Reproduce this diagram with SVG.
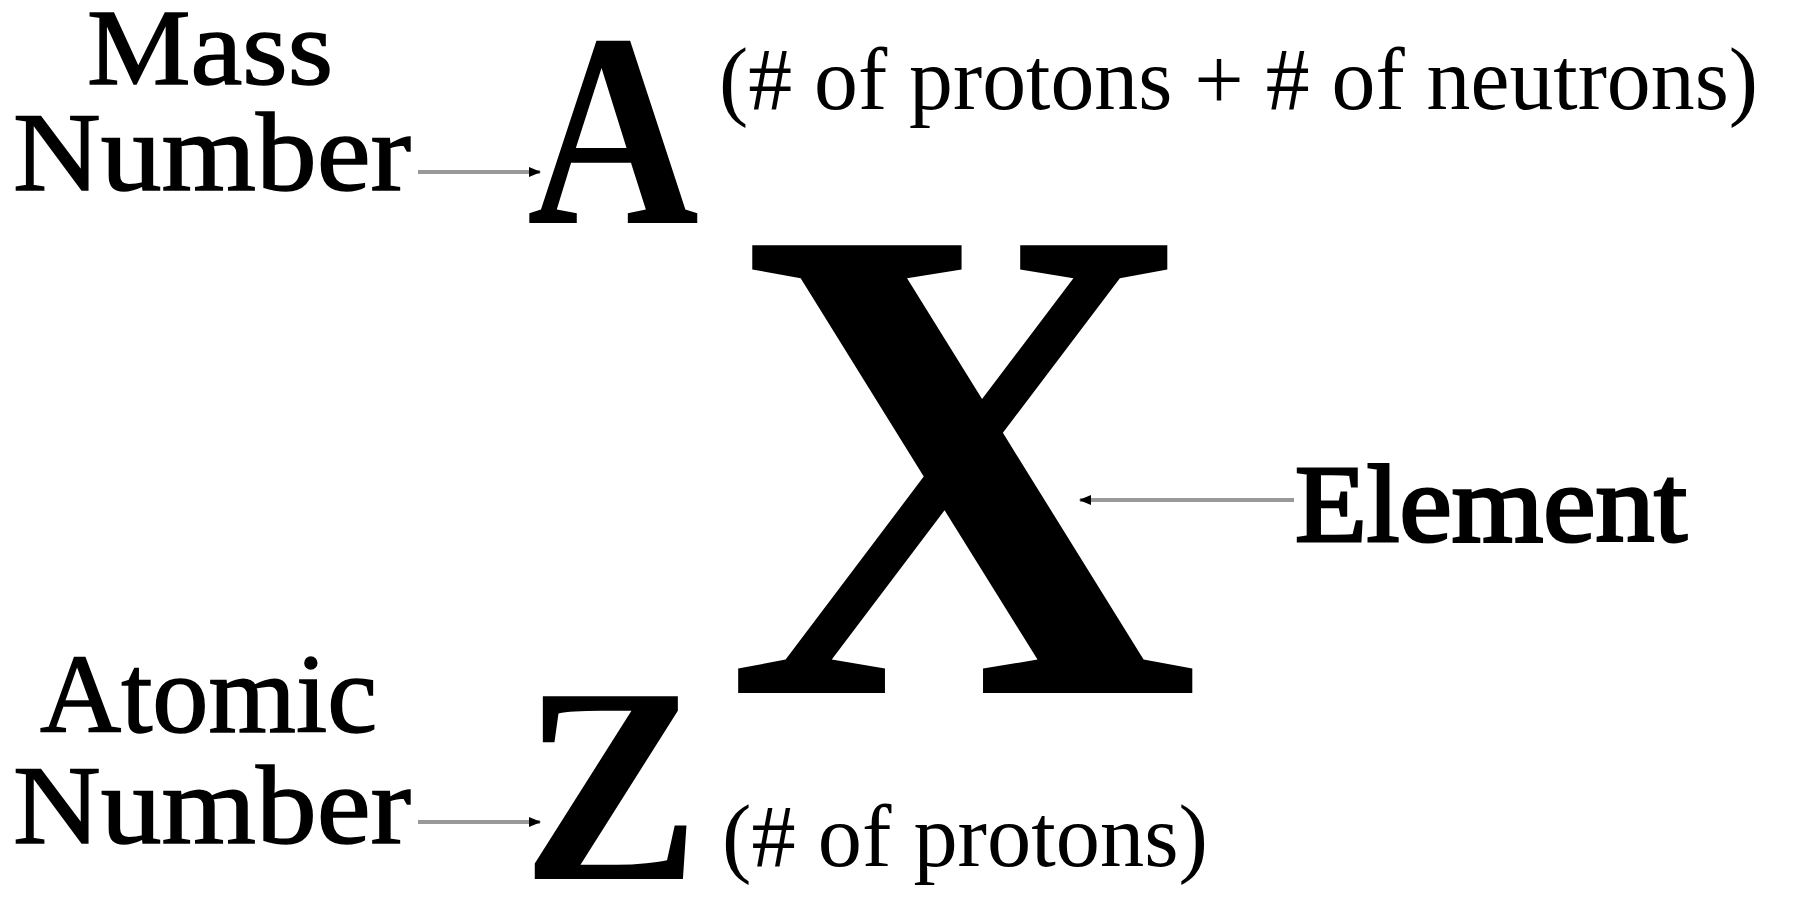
<svg xmlns="http://www.w3.org/2000/svg" width="1796" height="897" viewBox="0 0 1796 897">
<style>
.lbl{font-family:"Liberation Serif","Times New Roman",serif;fill:#000;stroke:#000;stroke-width:1.5}
.note{font-family:"Liberation Serif","Times New Roman",serif;fill:#000}
.sym{font-family:"Liberation Serif","Times New Roman",serif;font-weight:bold;fill:#000}
.conn{stroke:#999;stroke-width:4;fill:none}
</style>
<defs>
<marker id="ah" markerWidth="12" markerHeight="12" refX="11" refY="6" orient="auto" markerUnits="userSpaceOnUse">
<path d="M0,1 L12,6 L0,11 Z" fill="#000"/>
</marker>
</defs>
<rect width="1796" height="897" fill="#fff"/>
<g id="mass-number">
<text class="lbl" x="87" y="84" font-size="107" textLength="246" lengthAdjust="spacingAndGlyphs">Mass</text>
<text class="lbl" x="13" y="190" font-size="113" textLength="398" lengthAdjust="spacingAndGlyphs">Number</text>
</g>
<g id="symbol-A">
<text class="sym" x="527" y="223" font-size="276" textLength="172" lengthAdjust="spacingAndGlyphs">A</text>
</g>
<g id="mass-note">
<text class="note" x="719" y="109" font-size="88" textLength="1039" lengthAdjust="spacingAndGlyphs">(# of protons + # of neutrons)</text>
</g>
<g id="symbol-X">
<text class="sym" x="726" y="693" font-size="684" textLength="474" lengthAdjust="spacingAndGlyphs">X</text>
</g>
<g id="element">
<text class="lbl" x="1295" y="541" font-size="110" textLength="392" lengthAdjust="spacingAndGlyphs" style="stroke-width:3">Element</text>
</g>
<g id="atomic-number">
<text class="lbl" x="40" y="732" font-size="113" textLength="337" lengthAdjust="spacingAndGlyphs">Atomic</text>
<text class="lbl" x="13" y="843" font-size="113" textLength="398" lengthAdjust="spacingAndGlyphs">Number</text>
</g>
<g id="symbol-Z">
<text class="sym" x="522" y="879" font-size="279" textLength="178" lengthAdjust="spacingAndGlyphs">Z</text>
</g>
<g id="atomic-note">
<text class="note" x="722" y="866" font-size="88" textLength="486" lengthAdjust="spacingAndGlyphs">(# of protons)</text>
</g>
<g id="connectors">
<line class="conn" x1="418" y1="172" x2="540" y2="172" marker-end="url(#ah)"/>
<line class="conn" x1="1294" y1="500" x2="1080" y2="500" marker-end="url(#ah)"/>
<line class="conn" x1="418" y1="822" x2="540" y2="822" marker-end="url(#ah)"/>
</g>
</svg>
